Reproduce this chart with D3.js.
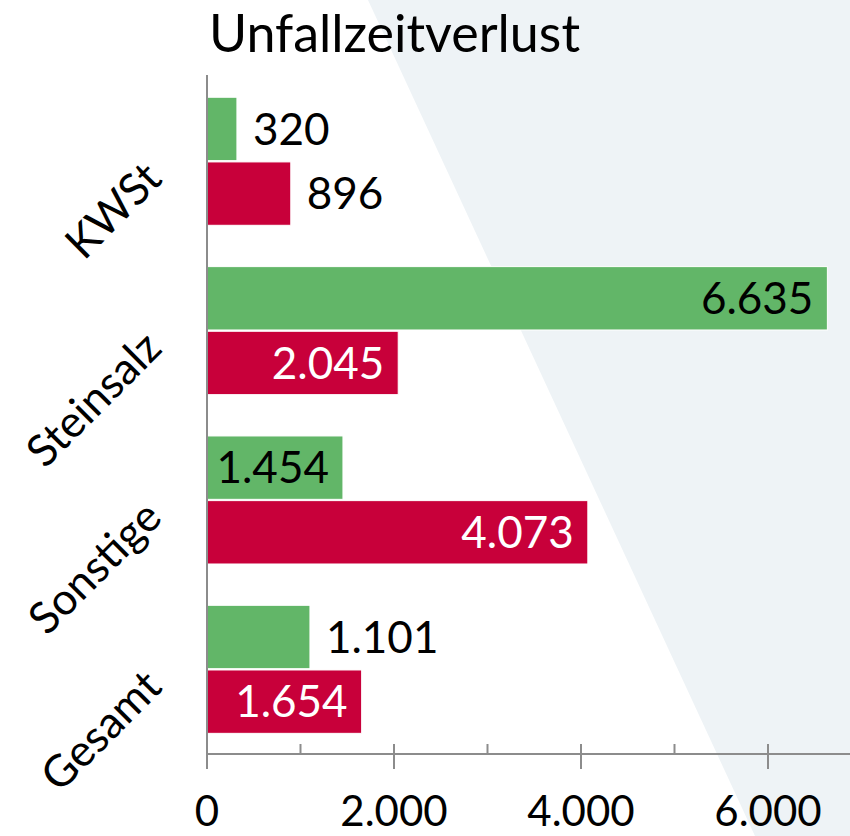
<!DOCTYPE html>
<html>
<head>
<meta charset="utf-8">
<script src="https://cdn.jsdelivr.net/npm/d3@7"></script>
<style>
  html, body { margin: 0; padding: 0; background: #ffffff; }
  svg { display: block; font-family: Lato, "Open Sans", sans-serif; }
</style>
</head>
<body>
<svg id="chart" width="850" height="836"></svg>
<script>
// ---- data ----
const title = "Unfallzeitverlust";
const categories = ["KWSt", "Steinsalz", "Sonstige", "Gesamt"];
const seriesNames = ["green", "red"];
const greenValues = [320, 6635, 1454, 1101];
const redValues = [896, 2045, 4073, 1654];
const majorTicks = [0, 2000, 4000, 6000];
const minorTicks = [1000, 3000, 5000];

// ---- setup ----
const W = 850, H = 836;
const svg = d3.select("#chart");
const colors = { green: "#62B668", red: "#C8003A" };
const de = d3.formatLocale({ decimal: ",", thousands: ".", grouping: [3], currency: ["", " €"] });
const fmt = de.format(",d");

const x = d3.scaleLinear().domain([0, 6000]).range([207, 768]);
const y = d3.scaleBand().domain(categories).range([76.6, 754])
  .paddingInner(0.244).paddingOuter(0.122);
const ySub = d3.scaleBand().domain(seriesNames).range([0, y.bandwidth()]).paddingInner(0.02);

// background shape
svg.append("polygon")
  .attr("points", [[368, 0], [W, 0], [W, H], [755, H]].map(p => p.join(",")).join(" "))
  .attr("fill", "#EEF3F6");

// title
svg.append("text")
  .attr("x", 209).attr("y", 52)
  .attr("font-size", 52)
  .attr("fill", "#000")
  .text(title);

const rows = categories.map((c, i) => ({ cat: c, green: greenValues[i], red: redValues[i] }));

// bars
const groups = svg.append("g").selectAll("g").data(rows).join("g")
  .attr("transform", d => `translate(0,${y(d.cat)})`);

groups.selectAll("rect").data(d => seriesNames.map(s => ({ s, v: d[s] }))).join("rect")
  .attr("x", x(0))
  .attr("y", d => ySub(d.s))
  .attr("width", d => x(d.v) - x(0))
  .attr("height", ySub.bandwidth())
  .attr("fill", d => colors[d.s])
  .attr("stroke", "#ffffff")
  .attr("stroke-width", 1);

// value labels
const labelSize = 44;
groups.selectAll("text.val").data(d => seriesNames.map(s => ({ s, v: d[s] }))).join("text")
  .attr("class", "val")
  .attr("font-size", labelSize)
  .attr("dy", "0.36em")
  .attr("y", d => ySub(d.s) + ySub.bandwidth() / 2)
  .text(d => fmt(d.v))
  .each(function (d) {
    const t = d3.select(this);
    const tw = this.getComputedTextLength();
    const bw = x(d.v) - x(0);
    if (tw + 18 < bw) {
      t.attr("x", x(d.v) - 14).attr("text-anchor", "end")
       .attr("fill", d.s === "red" ? "#ffffff" : "#000000");
    } else {
      t.attr("x", x(d.v) + 16).attr("text-anchor", "start").attr("fill", "#000000");
    }
  });

// x axis
const axisColor = "#8C8C8C";
const xAxisG = svg.append("g");
xAxisG.append("line")
  .attr("x1", x(0)).attr("x2", W).attr("y1", 754).attr("y2", 754)
  .attr("stroke", axisColor).attr("stroke-width", 2);
xAxisG.selectAll("line.major").data(majorTicks).join("line")
  .attr("class", "major")
  .attr("x1", d => x(d)).attr("x2", d => x(d))
  .attr("y1", 744).attr("y2", 769)
  .attr("stroke", axisColor).attr("stroke-width", 2);
xAxisG.selectAll("line.minor").data(minorTicks).join("line")
  .attr("class", "minor")
  .attr("x1", d => x(d)).attr("x2", d => x(d))
  .attr("y1", 744).attr("y2", 754)
  .attr("stroke", axisColor).attr("stroke-width", 2);
xAxisG.selectAll("text").data(majorTicks).join("text")
  .attr("x", d => x(d)).attr("y", 826)
  .attr("text-anchor", "middle")
  .attr("font-size", 42)
  .attr("fill", "#000")
  .text(d => fmt(d));

// y axis
svg.append("line")
  .attr("x1", x(0)).attr("x2", x(0)).attr("y1", 75).attr("y2", 769)
  .attr("stroke", axisColor).attr("stroke-width", 2);

svg.append("g").selectAll("text").data(categories).join("text")
  .attr("transform", d => `translate(153,${y(d) + y.bandwidth() / 2 + 9}) rotate(-45)`)
  .attr("text-anchor", "end")
  .attr("dy", "0.35em")
  .attr("font-size", labelSize)
  .attr("fill", "#000")
  .text(d => d);
</script>
</body>
</html>
